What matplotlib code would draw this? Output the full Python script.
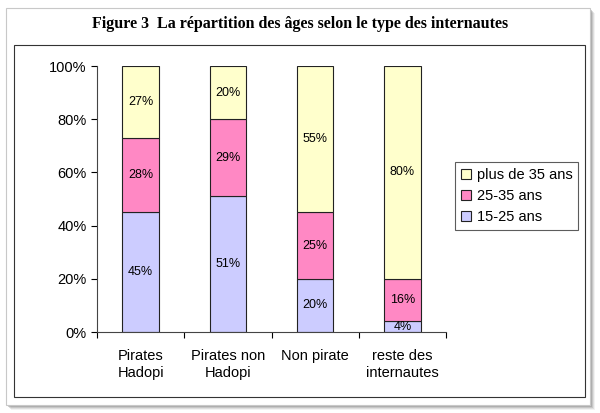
import matplotlib
matplotlib.use('Agg')
import matplotlib.pyplot as plt
from matplotlib.patches import Rectangle
from matplotlib.ticker import PercentFormatter

# Données
categories = ['Pirates\nHadopi', 'Pirates non\nHadopi', 'Non pirate', 'reste des\ninternautes']
age_15_25 = [45, 51, 20, 4]
age_25_35 = [28, 29, 25, 16]
age_35_plus = [27, 20, 55, 80]
labels = ['15-25 ans', '25-35 ans', 'plus de 35 ans']
colors = ['#CCCCFF', '#FF88C4', '#FFFFCC']

plt.rcParams['font.family'] = ['Liberation Sans', 'DejaVu Sans']

fig = plt.figure(figsize=(6, 4.13), dpi=100)
W, H = 600, 413

# cadre extérieur avec ombre
for i, a in enumerate([0.10, 0.18, 0.28, 0.4]):
    off = 5 - i
    fig.patches.append(Rectangle(((6 + off) / W, 1 - (405 + off) / H), 584 / W, 397 / H,
                                 transform=fig.transFigure, facecolor='#888888', alpha=a,
                                 edgecolor='none', zorder=0))
fig.patches.append(Rectangle((6 / W, 1 - 405 / H), 584 / W, 397 / H, transform=fig.transFigure,
                             facecolor='white', edgecolor='#c8c8c8', lw=0.8, zorder=1))
# cadre intérieur
fig.patches.append(Rectangle((14 / W, 1 - 397 / H), 571 / W, 352 / H, transform=fig.transFigure,
                             facecolor='white', edgecolor='#333333', lw=0.8, zorder=2))

fig.text(0.5, 1 - 24 / H, 'Figure 3  La répartition des âges selon le type des internautes',
         ha='center', va='center', fontsize=11.5, fontweight='bold', family='Liberation Serif')

ax = fig.add_axes([97 / W, 1 - 332 / H, 349 / W, 266 / H])
ax.set_zorder(3)
ax.patch.set_alpha(0)

x = range(len(categories))
series = [age_15_25, age_25_35, age_35_plus]
bottom = [0] * len(categories)
for vals, lab, col in zip(series, labels, colors):
    bars = ax.bar(x, vals, width=0.42, bottom=bottom, color=col, edgecolor='#222222',
                  linewidth=0.8, label=lab)
    for b, v, b0 in zip(bars, vals, bottom):
        ax.text(b.get_x() + b.get_width() / 2, b0 + v / 2, f'{v}%', ha='center', va='center',
                fontsize=9)
    bottom = [b0 + v for b0, v in zip(bottom, vals)]

ax.set_xlim(-0.5, len(categories) - 0.5)
ax.set_ylim(0, 100)
ax.set_yticks(range(0, 101, 20))
ax.yaxis.set_major_formatter(PercentFormatter(decimals=0))
ax.set_xticks([i + 0.5 for i in range(-1, len(categories))])
ax.set_xticklabels([])
ax.set_xticks(list(x), minor=True)
ax.set_xticklabels(categories, minor=True, fontsize=10.5, linespacing=1.3)
ax.tick_params(axis='x', which='minor', length=0, pad=12)
ax.tick_params(axis='x', which='major', length=4, direction='out')
ax.tick_params(axis='y', length=4, direction='out', labelsize=10.5)
ax.spines['top'].set_visible(False)
ax.spines['right'].set_visible(False)
ax.spines['left'].set_color('#444444')
ax.spines['bottom'].set_color('#444444')

handles, labs = ax.get_legend_handles_labels()
leg = fig.legend(handles[::-1], labs[::-1], loc='upper left',
                 bbox_to_anchor=(455 / W, 1 - 162 / H), borderaxespad=0, fontsize=10.5,
                 frameon=True, fancybox=False, edgecolor='#333333', handlelength=0.7,
                 handleheight=0.7, handletextpad=0.4, borderpad=0.4, labelspacing=0.5)
leg.get_frame().set_linewidth(0.8)
leg.set_zorder(4)

fig.savefig('out.png', dpi=100)
